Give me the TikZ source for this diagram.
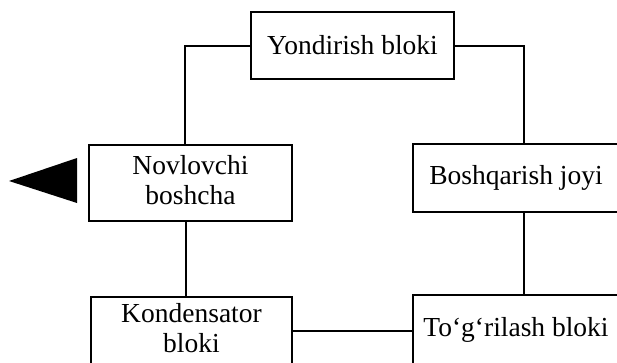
\documentclass[tikz,border=0pt]{standalone}
\usepackage{fontspec}
\setmainfont{Liberation Serif}
\newcommand{\twolines}[3]{\raisebox{#1}{\begin{tabular}{@{}c@{}}#2\\#3\end{tabular}}}
\begin{document}
\begin{tikzpicture}[x=1pt,y=-1pt,
  blk/.style={draw,line width=2.2pt,inner sep=0pt,align=center,
    font=\fontsize{27.5}{30}\selectfont},
  wire/.style={line width=2pt}]
\useasboundingbox (0,0) rectangle (617,362);
\node[blk,minimum width=203pt,minimum height=67pt] (Y) at (352.5,45.5) {Yondirish bloki};
\node[blk,minimum width=203pt,minimum height=76pt] (N) at (190.5,183) {\twolines{5pt}{Novlovchi}{boshcha}};
\node[blk,minimum width=206pt,minimum height=68pt] (B) at (516,178) {Boshqarish joyi};
\node[blk,minimum width=201pt,minimum height=68pt] (K) at (191.5,331) {\twolines{3pt}{Kondensator}{bloki}};
\node[blk,minimum width=206pt,minimum height=70pt] (T) at (516,330) {\raisebox{2pt}{To‘g‘rilash bloki}};
\draw[wire] (Y.west) -| ([xshift=-5.5pt]N.north);
\draw[wire] (Y.east) -| ([xshift=7.5pt]B.north);
\draw[wire] ([xshift=8pt]B.south) -- ([xshift=8pt]T.north);
\draw[wire] ([xshift=-5pt]N.south) -- ([xshift=-6pt]K.north);
\draw[wire] (K.east) -- (K.east -| T.west);
\fill (9,181) -- (77,158) -- (77,203) -- cycle;
\end{tikzpicture}
\end{document}
